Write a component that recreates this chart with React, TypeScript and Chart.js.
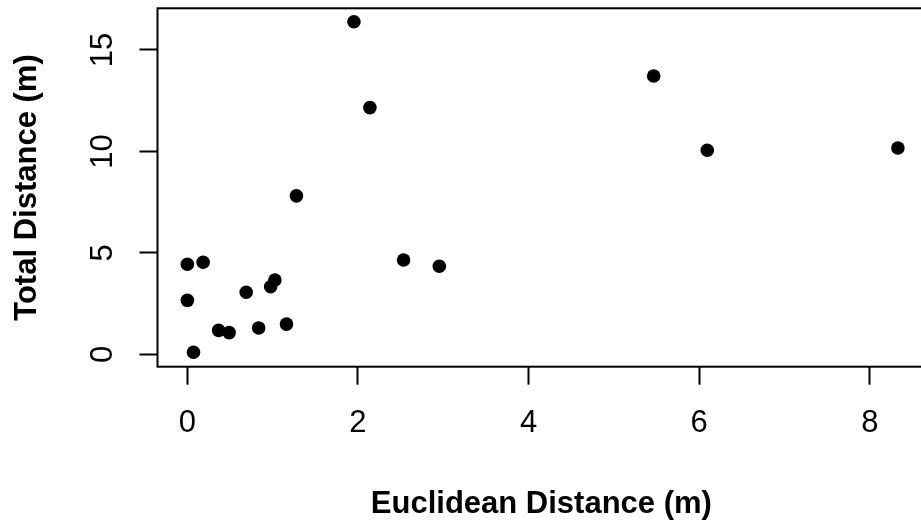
import React, { useEffect, useRef } from "react";
import { Chart, registerables } from "chart.js";

Chart.register(...registerables);

const euclidean = [0, 0.185, 0, 0.69, 0.976, 1.026, 0.367, 0.49, 0.836, 1.162, 0.072, 1.279, 2.535, 2.954, 1.953, 2.14, 5.467, 6.095, 8.33];
const total = [4.44, 4.54, 2.66, 3.06, 3.33, 3.66, 1.18, 1.07, 1.3, 1.49, 0.1, 7.81, 4.65, 4.34, 16.39, 12.16, 13.72, 10.06, 10.17];
const xTicks = [0, 2, 4, 6, 8];
const yTicks = [0, 5, 10, 15];
const xTitle = "Euclidean Distance (m)";
const yTitle = "Total Distance (m)";

const FONT = "'Liberation Sans', Arial, sans-serif";

const boxPlugin = {
  id: "rbox",
  afterDraw(chart: any) {
    const { ctx, chartArea } = chart;
    ctx.save();
    ctx.strokeStyle = "#000";
    ctx.lineWidth = 2;
    ctx.strokeRect(chartArea.left, chartArea.top, chartArea.right - chartArea.left, chartArea.bottom - chartArea.top);
    ctx.restore();
  },
};

export default function App() {
  const ref = useRef<HTMLCanvasElement>(null);
  useEffect(() => {
    document.body.style.margin = "0";
    document.body.style.overflow = "hidden";
    const chart = new Chart(ref.current!, {
      type: "scatter",
      data: {
        datasets: [
          {
            data: euclidean.map((x, i) => ({ x, y: total[i] })),
            backgroundColor: "#000",
            borderWidth: 0,
            pointRadius: 6.8,
            pointHoverRadius: 6.8,
          },
        ],
      },
      options: {
        animation: false,
        responsive: false,
        devicePixelRatio: 1,
        layout: { padding: { top: 8.3, right: 1, left: 0, bottom: 0 } },
        plugins: { legend: { display: false }, tooltip: { enabled: false } },
        scales: {
          x: {
            type: "linear",
            min: -0.35,
            max: 8.65,
            afterBuildTicks: (s: any) => {
              s.ticks = xTicks.map((v) => ({ value: v }));
            },
            afterFit: (s: any) => {
              s.height = 157.3;
              s.paddingLeft = 0;
              s.paddingRight = 0;
            },
            grid: { drawOnChartArea: false, drawTicks: true, tickLength: 18, tickWidth: 2, tickColor: "#000" },
            border: { display: false },
            ticks: { color: "#000", font: { family: FONT, size: 31 }, padding: 20, maxRotation: 0, minRotation: 0 },
            title: { display: true, text: xTitle, color: "#000", font: { family: FONT, size: 31, weight: "bold" }, padding: { top: 0, bottom: 1 } },
          },
          y: {
            type: "linear",
            min: -0.611,
            max: 17.055,
            afterBuildTicks: (s: any) => {
              s.ticks = yTicks.map((v) => ({ value: v }));
            },
            afterFit: (s: any) => {
              s.width = 157.5;
              s.paddingTop = 0;
              s.paddingBottom = 0;
            },
            grid: { drawOnChartArea: false, drawTicks: true, tickLength: 18, tickWidth: 2, tickColor: "#000" },
            border: { display: false },
            ticks: { color: "#000", font: { family: FONT, size: 31 }, padding: 19, minRotation: 90, maxRotation: 90, crossAlign: "center" },
            title: { display: true, text: yTitle, color: "#000", font: { family: FONT, size: 31, weight: "bold" }, padding: { top: 9, bottom: 0 } },
          },
        },
      },
      plugins: [boxPlugin],
    } as any);
    return () => chart.destroy();
  }, []);
  return (
    <div style={{ position: "fixed", left: 0, top: 0, width: 921, height: 524, overflow: "hidden", background: "#fff" }}>
      <canvas ref={ref} width={932} height={524} style={{ display: "block" }} />
    </div>
  );
}
